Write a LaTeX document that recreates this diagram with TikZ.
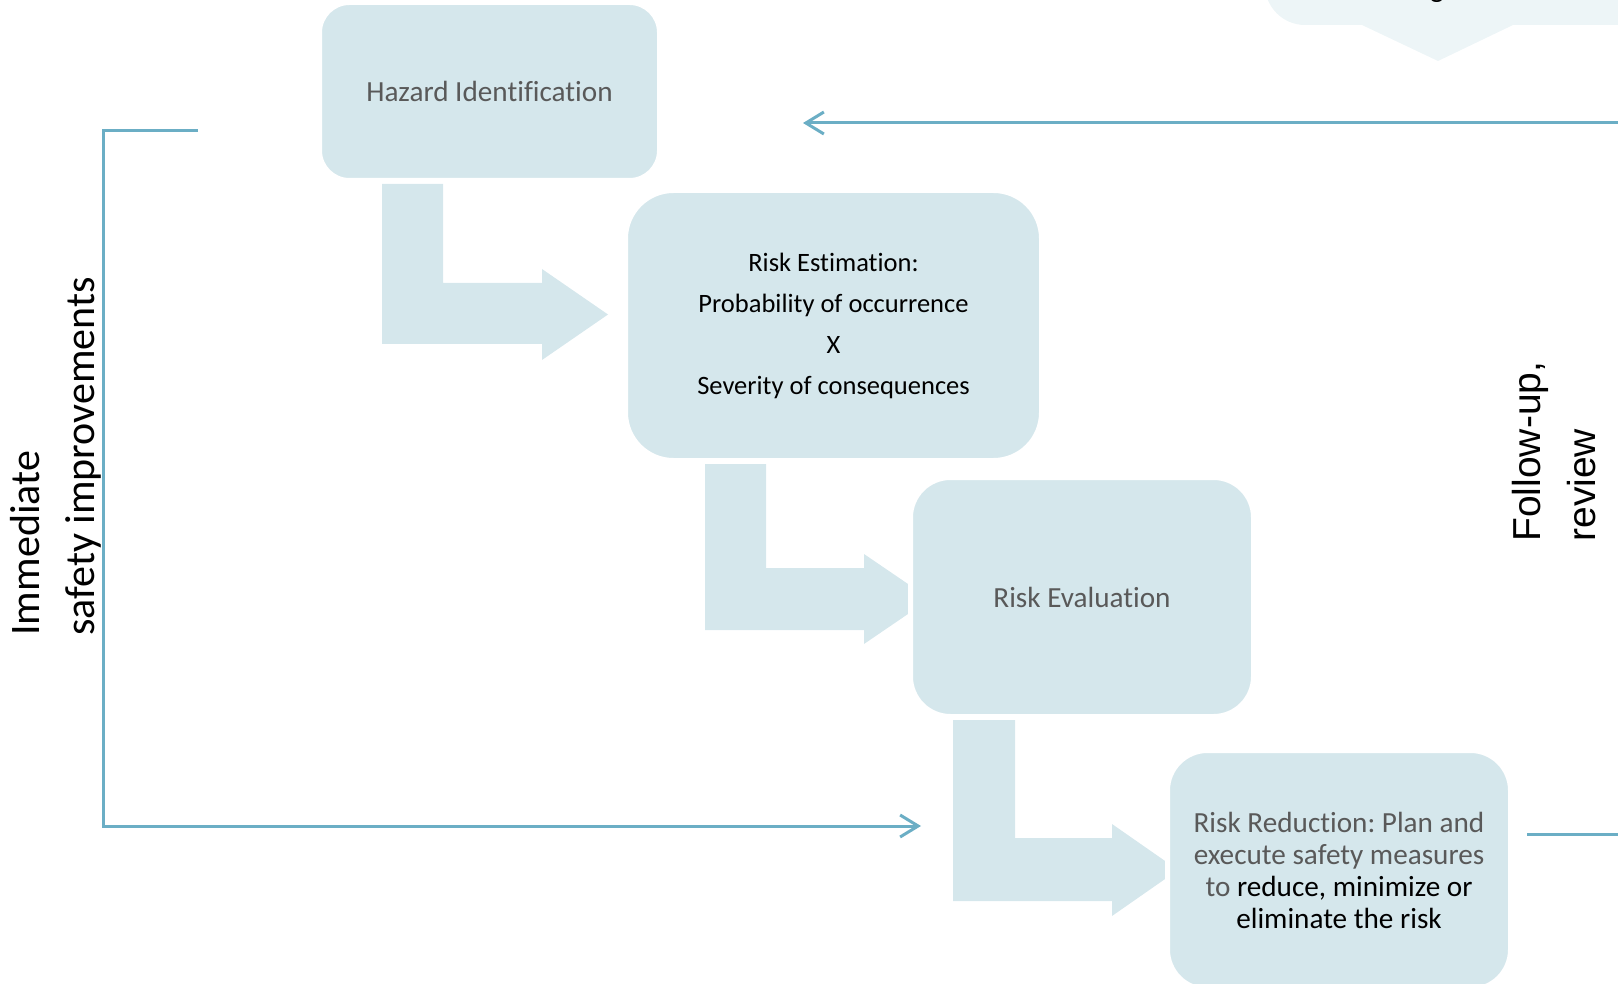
\documentclass[tikz,border=0pt]{standalone}
\usepackage{fontspec}
\setmainfont{Carlito}[Ligatures=NoCommon]
\newfontfamily\arialfont{Liberation Sans}
\usetikzlibrary{arrows.meta}
\definecolor{boxfill}{RGB}{213,231,236}
\definecolor{calloutfill}{RGB}{237,245,247}
\definecolor{linecol}{RGB}{107,174,197}
\definecolor{graytext}{RGB}{89,89,89}
\frenchspacing
\begin{document}
\begin{tikzpicture}[x=0.5pt,y=-0.5pt,
  stepbox/.style={fill=boxfill, draw=white, line width=2.5pt, rounded corners=#1,
    inner sep=0pt, align=center},
  bigtext/.style={font=\fontsize{14.6pt}{16pt}\selectfont},
  bent/.style={fill=boxfill, draw=none},
  conn/.style={draw=linecol, line width=1.5pt},
  barb/.style={-{Straight Barb[length=9pt,width=11pt]}}]
\useasboundingbox (0,0) rectangle (1618,984);
\begin{scope}
\clip (0,0) rectangle (1618,984);
% cut-off callout at the top right
\fill[calloutfill] (1265,-100) -- (1265,-15) arc[start angle=180,end angle=270,radius=20pt]
  -- (1362,25) -- (1438,61) -- (1513,25) -- (1700,25) -- (1700,-100) -- cycle;
\node[font=\fontsize{14.6pt}{17pt}\selectfont, anchor=base, inner sep=0pt] (cut) at (1437,-2) {g};
% connectors
\coordinate (topR) at (1618,123);
\coordinate (topL) at (803,123);
\draw[conn,barb] (topR) -- (topL);
\coordinate (brA) at (198,131);
\coordinate (brB) at (103,131);
\coordinate (brC) at (103,826);
\coordinate (brD) at (921,826);
\draw[conn,barb] (brA) -- (brB) -- (brC) -- (brD);
\coordinate (rsA) at (1527,834);
\coordinate (rsB) at (1618,834);
\draw[conn] (rsA) -- (rsB);
% bent arrows
\fill[bent] (382,184) -- (443,184) -- (443,283) -- (542,283) -- (542,269) -- (608,314.5)
  -- (542,360) -- (542,344) -- (382,344) -- cycle;
\fill[bent] (705,464) -- (766,464) -- (766,568) -- (864,568) -- (864,554) -- (930,599)
  -- (864,644) -- (864,630) -- (705,630) -- cycle;
\fill[bent] (953,720) -- (1015,720) -- (1015,838) -- (1112,838) -- (1112,824) -- (1178,870)
  -- (1112,916) -- (1112,901) -- (953,901) -- cycle;
% boxes
\node[stepbox=15pt, minimum width=170pt, minimum height=89pt, bigtext, text=graytext]
  (hazard) at (489.5,91.5) {Hazard Identification};
\node[stepbox=24pt, minimum width=208pt, minimum height=135pt,
  font=\fontsize{13.25pt}{20.5pt}\selectfont, text=black]
  (estim) at (833.5,325.5) {Risk Estimation:\\Probability of occurrence\\X\\Severity of consequences};
\node[stepbox=20pt, minimum width=171.5pt, minimum height=119.5pt, bigtext, text=graytext]
  (evalu) at (1082,597) {Risk Evaluation};
\node[stepbox=20pt, minimum width=171.5pt, minimum height=119.5pt, bigtext, text=graytext]
  (reduc) at (1339,870) {Risk Reduction: Plan and\\execute safety measures\\to \textcolor{black}{reduce, minimize or}\\\textcolor{black}{eliminate the risk}};
% side labels
\node[rotate=90, anchor=south west, inner sep=0pt, align=left,
  font=\fontsize{21pt}{27.5pt}\selectfont] (imm) at (102,636) {Immediate\\safety improvements};
\node[rotate=90, anchor=south west, inner sep=0pt, align=left,
  font=\arialfont\fontsize{19.5pt}{27.5pt}\selectfont] (fol) at (1596,542) {Follow-up,\\review};
\end{scope}
\end{tikzpicture}
\end{document}
